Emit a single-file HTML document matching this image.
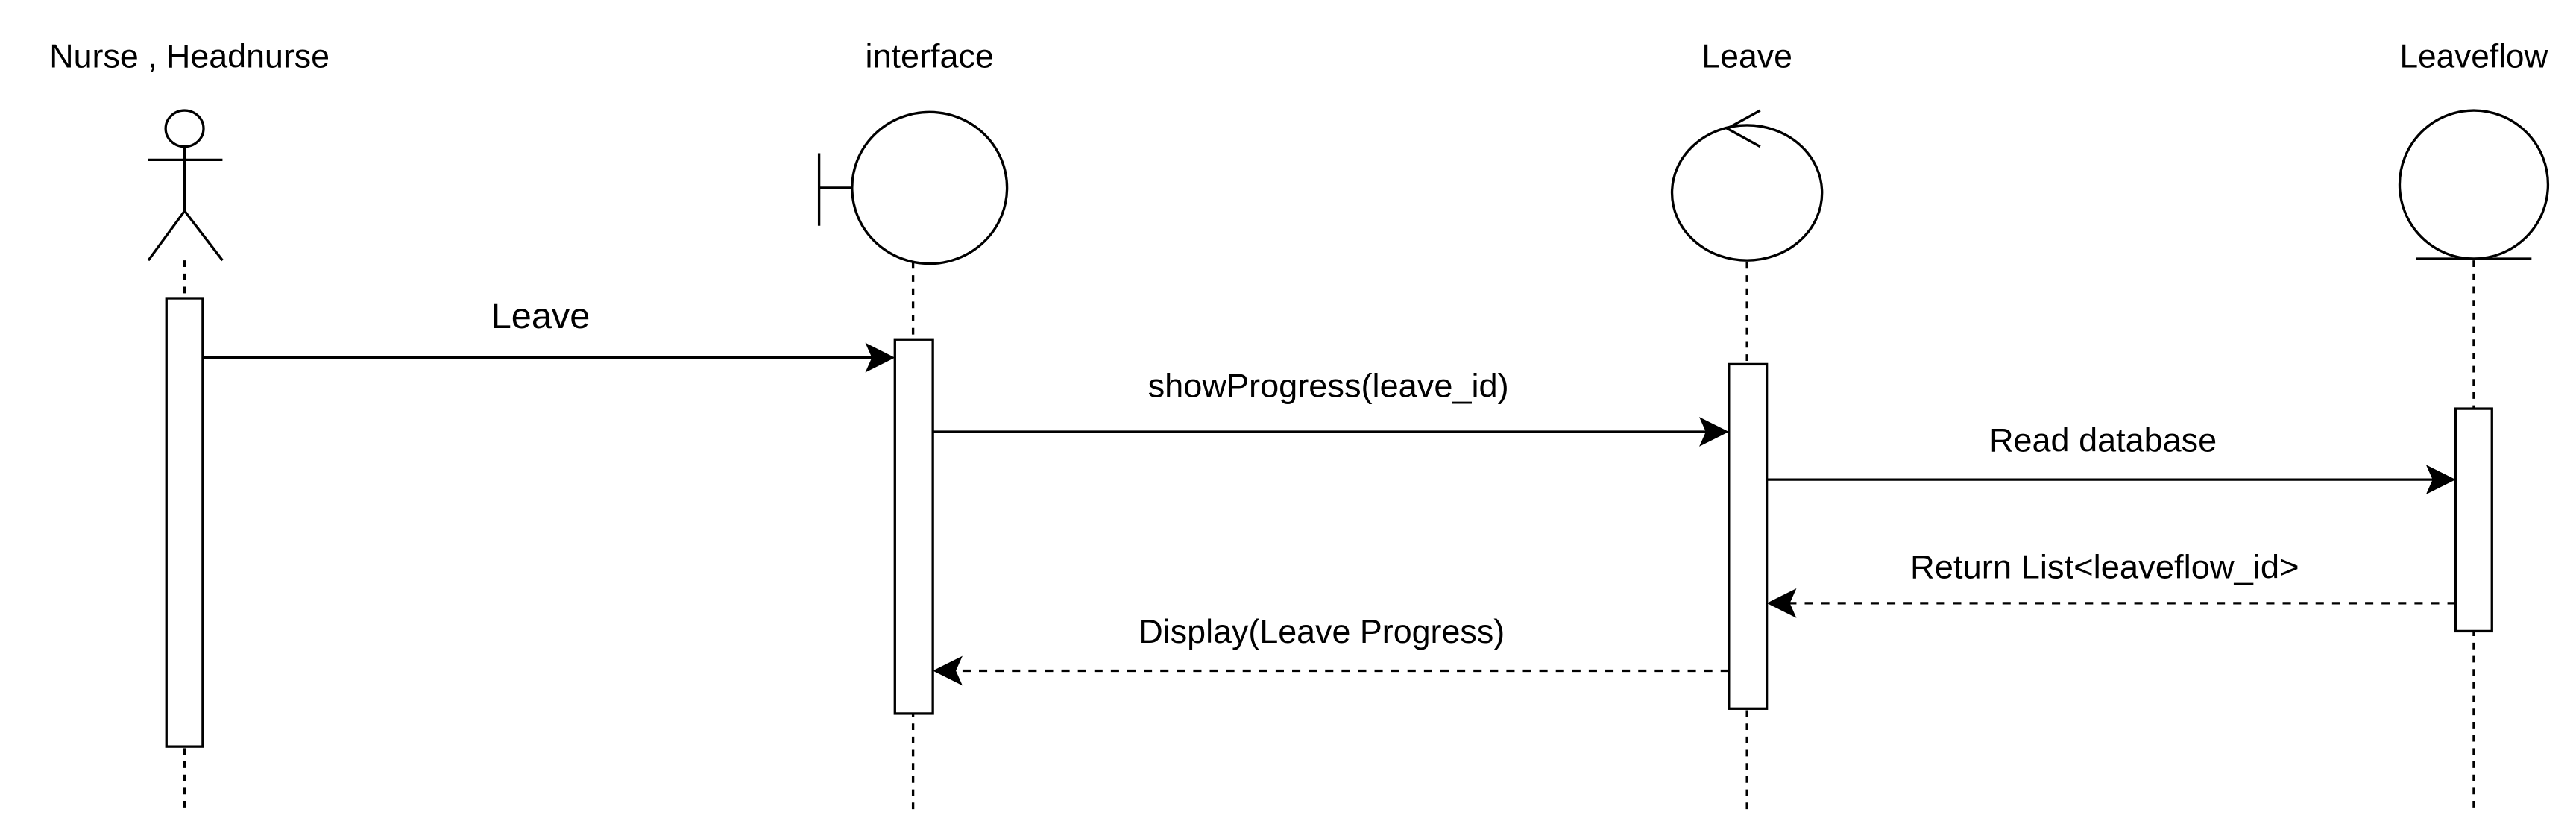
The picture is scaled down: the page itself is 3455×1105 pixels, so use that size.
<!DOCTYPE html>
<html><head><meta charset="utf-8"><style>html,body{margin:0;padding:0;background:#fff;}svg{display:block;}</style></head>
<body>
<svg width="3455" height="1105" viewBox="0 0 1563 500" preserveAspectRatio="none" xmlns="http://www.w3.org/2000/svg" font-family="Liberation Sans, sans-serif">
<g fill="none" stroke="#000" stroke-width="1.5">
<g stroke-dasharray="4 4">
<line x1="112" y1="158" x2="112" y2="492"/>
<line x1="554" y1="159" x2="554" y2="492"/>
<line x1="1060" y1="159" x2="1060" y2="492"/>
<line x1="1501" y1="158" x2="1501" y2="492"/>
</g>
<ellipse cx="112" cy="78" rx="11.5" ry="11"/>
<line x1="112" y1="89" x2="112" y2="128"/>
<line x1="90" y1="97" x2="135" y2="97"/>
<line x1="112" y1="128" x2="90" y2="158"/>
<line x1="112" y1="128" x2="135" y2="158"/>
<ellipse cx="564" cy="114" rx="47" ry="46"/>
<line x1="497" y1="93" x2="497" y2="137"/>
<line x1="497" y1="114" x2="517" y2="114"/>
<ellipse cx="1060" cy="117" rx="45.5" ry="41"/>
<polyline points="1068,67 1048,78 1068,89"/>
<ellipse cx="1501" cy="112" rx="45" ry="45"/>
<line x1="1466" y1="157" x2="1536" y2="157"/>
<rect x="101" y="181" width="22" height="272" fill="#fff"/>
<rect x="543" y="206" width="23" height="227" fill="#fff"/>
<rect x="1049" y="221" width="23" height="209" fill="#fff"/>
<rect x="1490" y="248" width="22" height="135" fill="#fff"/>
<line x1="123" y1="217" x2="536" y2="217"/>
<line x1="566" y1="262" x2="1043" y2="262"/>
<line x1="1072" y1="291" x2="1484" y2="291"/>
<line x1="1490" y1="366" x2="1080" y2="366" stroke-dasharray="5 5"/>
<line x1="1049" y1="407" x2="574" y2="407" stroke-dasharray="5 5"/>
</g>
<g fill="#000">
<path d="M543,217 L525,208 L529,217 L525,226 Z"/>
<path d="M1049,262 L1031,253 L1035,262 L1031,271 Z"/>
<path d="M1490,291 L1472,282 L1476,291 L1472,300 Z"/>
<path d="M1072,366 L1090,357 L1086,366 L1090,375 Z"/>
<path d="M566,407 L584,398 L580,407 L584,416 Z"/>
</g>
<g font-size="20" text-anchor="middle" fill="#000" textLength="0">
<text x="115" y="41" textLength="170" lengthAdjust="spacingAndGlyphs">Nurse , Headnurse</text>
<text x="564" y="41" textLength="78" lengthAdjust="spacingAndGlyphs">interface</text>
<text x="1060" y="41" textLength="55" lengthAdjust="spacingAndGlyphs">Leave</text>
<text x="1501" y="41" textLength="90" lengthAdjust="spacingAndGlyphs">Leaveflow</text>
<text x="328" y="199" font-size="22" textLength="60" lengthAdjust="spacingAndGlyphs">Leave</text>
<text x="806" y="241" textLength="219" lengthAdjust="spacingAndGlyphs">showProgress(leave_id)</text>
<text x="1276" y="274" textLength="138" lengthAdjust="spacingAndGlyphs">Read database</text>
<text x="1277" y="351" textLength="236" lengthAdjust="spacingAndGlyphs">Return List&lt;leaveflow_id&gt;</text>
<text x="802" y="390" textLength="222" lengthAdjust="spacingAndGlyphs">Display(Leave Progress)</text>
</g>
</svg>
</body></html>
